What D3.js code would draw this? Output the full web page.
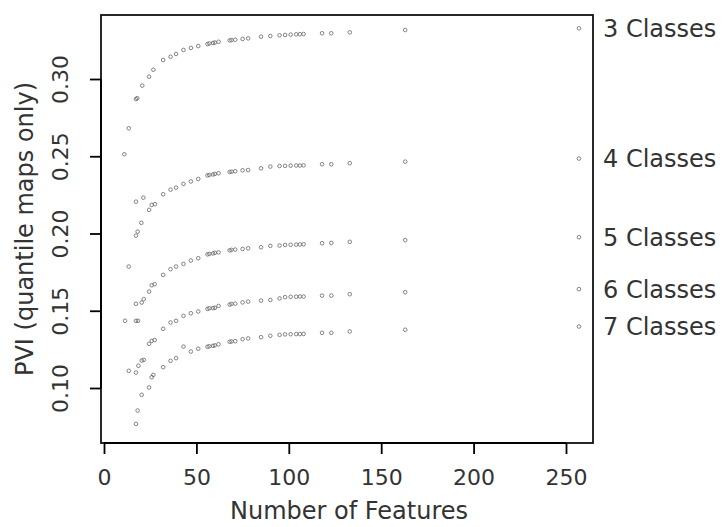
<!DOCTYPE html>
<html>
<head>
<meta charset="utf-8">
<script src="https://cdn.jsdelivr.net/npm/d3@7"></script>
<style>
  body { margin: 0; background: #fff; }
  text { font-family: "DejaVu Sans", sans-serif; fill: #333; }
</style>
</head>
<body>
<svg width="722" height="527"></svg>
<script>
// shared feature counts for the larger maps
var featuresMid = [32, 36, 39, 43, 47, 51, 56, 57, 59, 60, 62, 68, 69, 71, 75, 78, 85, 90, 95, 98, 101, 104, 106, 108, 118, 123, 133, 163, 257];

// small maps, read one by one
var small3 = [11, 13.4, 17.3, 18, 20.7, 24.4, 26.7];
var pviSmall3 = [0.2513, 0.2681, 0.2870, 0.2876, 0.2957, 0.3015, 0.3060];
var small4 = [17.3, 17.3, 18.2, 20.2, 21.3, 24.4, 25.8, 27.6];
var pviSmall4 = [0.2206, 0.1986, 0.2012, 0.2069, 0.2232, 0.2153, 0.2185, 0.2190];
var small5 = [13.4, 17.3, 20.4, 21.5, 24.4, 25.8, 27.4];
var pviSmall5 = [0.1786, 0.1545, 0.1553, 0.1575, 0.1624, 0.1665, 0.1672];
var small6 = [11.4, 17.3, 18.4, 13.4, 17.3, 18.6, 20.4, 21.5, 24.4, 25.8, 27.4];
var pviSmall6 = [0.1435, 0.1435, 0.1435, 0.1111, 0.1100, 0.1144, 0.1178, 0.1182, 0.1286, 0.1305, 0.1310];
var small7 = [17.3, 18.2, 20.4, 24.4, 25.8, 26.7];
var pviSmall7 = [0.0768, 0.0854, 0.0956, 0.1003, 0.1070, 0.1085];

var pvi3 = [0.3123, 0.3144, 0.3162, 0.3188, 0.3201, 0.3213, 0.3226, 0.3230, 0.3233, 0.3236, 0.3241, 0.3250, 0.3252, 0.3254, 0.3259, 0.3263, 0.3274, 0.3278, 0.3283, 0.3285, 0.3287, 0.3289, 0.3290, 0.3291, 0.3296, 0.3296, 0.3302, 0.3317, 0.3328];
var pvi4 = [0.2254, 0.2284, 0.2297, 0.2321, 0.2337, 0.2353, 0.2376, 0.2379, 0.2382, 0.2386, 0.2390, 0.2398, 0.2400, 0.2403, 0.2409, 0.2411, 0.2422, 0.2433, 0.2437, 0.2438, 0.2439, 0.2440, 0.2440, 0.2441, 0.2448, 0.2448, 0.2455, 0.2465, 0.2485];
var pvi5 = [0.1732, 0.1769, 0.1786, 0.1803, 0.1825, 0.1840, 0.1865, 0.1868, 0.1871, 0.1875, 0.1878, 0.1891, 0.1894, 0.1896, 0.1900, 0.1904, 0.1911, 0.1920, 0.1922, 0.1926, 0.1927, 0.1928, 0.1929, 0.1930, 0.1937, 0.1939, 0.1946, 0.1957, 0.1976];
var pvi6 = [0.1383, 0.1424, 0.1435, 0.1467, 0.1484, 0.1495, 0.1512, 0.1516, 0.1517, 0.1519, 0.1531, 0.1540, 0.1544, 0.1546, 0.1554, 0.1559, 0.1566, 0.1570, 0.1580, 0.1588, 0.1590, 0.1591, 0.1592, 0.1592, 0.1598, 0.1598, 0.1607, 0.1620, 0.1640];
var pvi7 = [0.1135, 0.1176, 0.1193, 0.1268, 0.1236, 0.1254, 0.1267, 0.1270, 0.1273, 0.1276, 0.1283, 0.1299, 0.1301, 0.1303, 0.1316, 0.1321, 0.1329, 0.1338, 0.1344, 0.1347, 0.1348, 0.1349, 0.1349, 0.1350, 0.1357, 0.1357, 0.1366, 0.1377, 0.1398];

var classNames = ["3 Classes", "4 Classes", "5 Classes", "6 Classes", "7 Classes"];
var xTicks = [0, 50, 100, 150, 200, 250];
var yTicks = [0.10, 0.15, 0.20, 0.25, 0.30];

var series = [
  {name: classNames[0], xs: small3.concat(featuresMid), ys: pviSmall3.concat(pvi3)},
  {name: classNames[1], xs: small4.concat(featuresMid), ys: pviSmall4.concat(pvi4)},
  {name: classNames[2], xs: small5.concat(featuresMid), ys: pviSmall5.concat(pvi5)},
  {name: classNames[3], xs: small6.concat(featuresMid), ys: pviSmall6.concat(pvi6)},
  {name: classNames[4], xs: small7.concat(featuresMid), ys: pviSmall7.concat(pvi7)}
];

var svg = d3.select("svg");
var box = {left: 101, right: 593, top: 15, bottom: 443};

var x = d3.scaleLinear().domain([0, 250]).range([104, 566]);
var y = d3.scaleLinear().domain([0.10, 0.30]).range([388, 79]);

// points
series.forEach(function(s) {
  var pts = s.xs.map(function(v, i) { return [v, s.ys[i]]; });
  svg.append("g").selectAll("circle")
    .data(pts)
    .enter().append("circle")
    .attr("cx", d => x(d[0]))
    .attr("cy", d => y(d[1]))
    .attr("r", 1.8)
    .attr("fill", "none")
    .attr("stroke", "#666")
    .attr("stroke-width", 0.8);

  var last = pts[pts.length - 1];
  svg.append("text")
    .attr("x", 603)
    .attr("y", y(last[1]))
    .attr("dy", "0.35em")
    .attr("font-size", 24)
    .text(s.name);
});

// frame
svg.append("rect")
  .attr("x", box.left).attr("y", box.top)
  .attr("width", box.right - box.left).attr("height", box.bottom - box.top)
  .attr("fill", "none").attr("stroke", "#111").attr("stroke-width", 1.8);

// axes
var xAxis = d3.axisBottom(x).tickValues(xTicks).tickSize(11).tickFormat(d3.format("d"));
var gx = svg.append("g").attr("transform", "translate(0," + box.bottom + ")").call(xAxis);
gx.select(".domain").attr("stroke-width", 1.8).attr("d", "M" + x(0) + ",0H" + x(250));
gx.selectAll(".tick line").attr("stroke-width", 1.8);
gx.selectAll(".tick text").attr("font-size", 22).attr("font-family", "DejaVu Sans").attr("fill", "#333").attr("dy", "1.25em");

var yAxis = d3.axisLeft(y).tickValues(yTicks).tickSize(11).tickFormat(d3.format(".2f"));
var gy = svg.append("g").attr("transform", "translate(" + box.left + ",0)").call(yAxis);
gy.select(".domain").attr("stroke-width", 1.8).attr("d", "M0," + y(0.10) + "V" + y(0.30));
gy.selectAll(".tick line").attr("stroke-width", 1.8);
gy.selectAll(".tick text")
  .attr("font-size", 22).attr("font-family", "DejaVu Sans").attr("fill", "#333")
  .attr("x", null).attr("dy", null)
  .attr("text-anchor", "middle")
  .attr("transform", "translate(-33,0) rotate(-90)");

svg.append("text")
  .attr("x", (box.left + box.right) / 2 + 2)
  .attr("y", 519)
  .attr("text-anchor", "middle")
  .attr("font-size", 24)
  .text("Number of Features");

svg.append("text")
  .attr("transform", "translate(33," + (box.top + box.bottom) / 2 + ") rotate(-90)")
  .attr("text-anchor", "middle")
  .attr("font-size", 24)
  .text("PVI (quantile maps only)");
</script>
</body>
</html>
